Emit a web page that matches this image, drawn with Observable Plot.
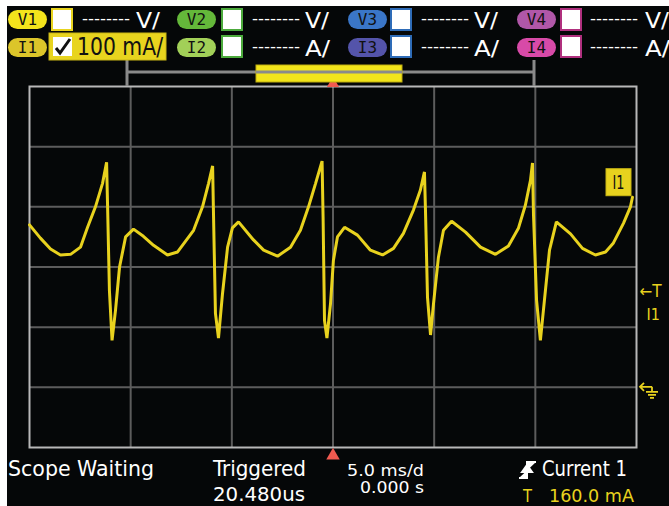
<!DOCTYPE html>
<html><head><meta charset="utf-8">
<script src="https://cdn.jsdelivr.net/npm/d3@7"></script>
<script src="https://cdn.jsdelivr.net/npm/@observablehq/plot@0.6"></script>
<style>
html,body{margin:0;padding:0;background:#fff;}
#wrap{position:relative;width:669px;height:506px;overflow:hidden;}
#bg{position:absolute;left:7px;top:6px;width:662px;height:500px;background:#050708;}
#wrap svg{position:absolute;left:0;top:0;}
</style></head><body><div id="wrap"><div id="bg"></div></div>
<script>
// Time (ms) relative to trigger, 5 ms/div
const timeMs = [-15.00,-14.46,-13.96,-13.47,-12.97,-12.48,-12.13,-11.74,-11.39,-11.19,-11.14,-11.05,-10.92,-10.75,-10.55,-10.25,-9.86,-9.37,-8.87,-8.18,-7.68,-6.89,-6.45,-6.15,-5.95,-5.91,-5.81,-5.66,-5.46,-5.21,-4.97,-4.67,-3.93,-3.43,-2.74,-2.10,-1.61,-1.21,-0.86,-0.54,-0.49,-0.42,-0.30,-0.12,0.02,0.22,0.57,1.21,1.85,2.45,2.99,3.48,3.98,4.32,4.52,4.57,4.67,4.82,4.97,5.21,5.46,5.86,6.55,7.29,8.03,8.67,9.17,9.51,9.76,9.86,9.91,10.06,10.25,10.45,10.70,11.04,11.74,12.33,12.97,13.47,13.86,14.36,14.70,14.80];
// Current I1 (mA), 100 mA/div
const currentMA = [270,248,230,220,221,233,266,300,339,374,300,161,78,128,200,250,263,251,236,220,225,261,300,339,368,295,123,82,156,233,265,275,245,228,218,233,261,300,339,376,283,111,82,140,211,250,266,253,228,220,231,256,295,328,358,295,150,87,140,216,261,276,258,233,221,235,265,303,344,373,286,145,78,145,228,275,255,231,220,225,240,273,300,316];
const timeDivs = [-15,-10,-5,0,5,10,15];
const currentDivs = [-100,0,100,200,300,400,500];
const triggerLevel = [160];
const groundLevel = [0];
const triggerTime = [0];

const channelsV = [
  {label:"V1", fill:"#f4e41c", border:"#e8d41e", unit:"V/"},
  {label:"V2", fill:"#64b83a", border:"#4caa3c", unit:"V/"},
  {label:"V3", fill:"#3a76c8", border:"#2e6cb8", unit:"V/"},
  {label:"V4", fill:"#b057a8", border:"#b0307e", unit:"V/"}
];
const channelsI = [
  {label:"I1", fill:"#dcc52a", border:"#e8d41e", unit:"100 mA/"},
  {label:"I2", fill:"#a2d058", border:"#4caa3c", unit:"A/"},
  {label:"I3", fill:"#5454aa", border:"#2e6cb8", unit:"A/"},
  {label:"I4", fill:"#d84aa8", border:"#b0307e", unit:"A/"}
];

const YEL = "#e8d21e";
const data = timeMs.map((t, k) => ({t, i: currentMA[k]}));
const FONT = "'Liberation Sans Narrow','DejaVu Sans Condensed','Liberation Sans',sans-serif";

const chart = Plot.plot({
  width: 669, height: 506,
  marginLeft: 29, marginRight: 33, marginTop: 86, marginBottom: 59,
  style: {background: "transparent", overflow: "visible", fontFamily: FONT},
  x: {domain: [-15, 15], axis: null},
  y: {domain: [-100, 500], axis: null},
  marks: [
    Plot.ruleX(timeDivs.slice(1, -1), {stroke: "#5c5c5c", strokeWidth: 2}),
    Plot.ruleY(currentDivs.slice(1, -1), {stroke: "#5c5c5c", strokeWidth: 2}),
    Plot.frame({stroke: "#b8b8b8", strokeWidth: 2}),
    Plot.line(data, {x: "t", y: "i", stroke: YEL, strokeWidth: 3, strokeLinejoin: "miter"}),
    Plot.text(triggerLevel, {y: d => d, text: () => "←T", frameAnchor: "right", textAnchor: "start", dx: 3, fill: YEL, fontSize: 17}),
    Plot.text(triggerLevel, {y: d => d, text: () => "I1", frameAnchor: "right", textAnchor: "start", dx: 10, dy: 24, fill: YEL, fontSize: 16}),
    Plot.dot(triggerTime, {x: d => d, frameAnchor: "top", symbol: "triangle", r: 4.5, fill: "#f05a50", dy: -3}),
    Plot.dot(triggerTime, {x: d => d, frameAnchor: "bottom", symbol: "triangle", r: 5, fill: "#f05a50", dy: 8})
  ]
});
document.getElementById("wrap").appendChild(chart);

const svg = d3.select(chart);
const g = svg.append("g").attr("font-family", FONT).attr("text-anchor", "start");
function txt(x, y, s, size, fill, len, anchor) {
  const t = g.append("text").attr("x", x).attr("y", y).attr("font-size", size).attr("fill", fill)
    .attr("text-anchor", anchor || "start").text(s);
  if (len) t.attr("textLength", len).attr("lengthAdjust", "spacingAndGlyphs");
  return t;
}
function pill(x, y, w, h, fill, label) {
  g.append("rect").attr("x", x).attr("y", y).attr("width", w).attr("height", h).attr("rx", h / 2).attr("fill", fill);
  g.append("text").attr("x", x + w / 2).attr("y", y + h - 4).attr("text-anchor", "middle")
    .attr("font-family", "'DejaVu Sans Mono',monospace").attr("font-size", 16).attr("fill", "#111").text(label);
}
function box(x, y, w, h, stroke) {
  g.append("rect").attr("x", x + 1).attr("y", y + 1).attr("width", w - 2).attr("height", h - 2)
    .attr("fill", "#fff").attr("stroke", stroke).attr("stroke-width", 2);
}

// Connector lines & acquisition bar
g.append("path").attr("d", "M127,60V86 M127,72H534 M534,60V86").attr("stroke", "#8a8a8a").attr("stroke-width", 3).attr("fill", "none");
g.append("rect").attr("x", 256).attr("y", 65).attr("width", 146).attr("height", 17).attr("fill", "#f2e41a").attr("stroke", "#bfae10").attr("stroke-width", 1);
g.append("path").attr("d", "M256,72H402").attr("stroke", "#8a8a8a").attr("stroke-width", 3);

// Header rows
const colX = [[8, 51, 82, 136], [177, 221, 252, 305], [348, 390, 421, 474], [517, 560, 590, 645]];
channelsV.forEach((c, k) => {
  const [px, bx, dx, ux] = colX[k];
  pill(px, 10, 39, 19, c.fill, c.label);
  box(bx, 8, 22, 23, c.border);
  txt(dx, 24, "--------", 15, "#fff", 48);
  txt(ux, 28, c.unit, 22, "#fff", 24);
});
channelsI.forEach((c, k) => {
  const [px, bx, dx, ux] = colX[k];
  if (k === 0) {
    g.append("rect").attr("x", 49).attr("y", 33).attr("width", 117).attr("height", 27).attr("fill", "#e8d41e").attr("stroke", "#c9b614").attr("stroke-width", 1);
    g.append("rect").attr("x", 53).attr("y", 37).attr("width", 19).attr("height", 19).attr("fill", "#fff");
    g.append("path").attr("d", "M56,48 L60,53 L70,39").attr("stroke", "#111").attr("stroke-width", 3).attr("fill", "none");
    txt(77, 55, c.unit, 25, "#111", 86);
  } else {
    box(bx, 35, 22, 23, c.border);
    txt(dx, 52, "--------", 15, "#fff", 48);
    txt(ux, 56, c.unit, 22, "#fff", 25);
  }
  pill(px, 38, 39, 19, c.fill, c.label);
});

// Trace label box at right
const ys = chart.scale("y");
const lastY = ys.apply(currentMA[currentMA.length - 1]);
g.append("rect").attr("x", 606).attr("y", lastY - 28).attr("width", 25).attr("height", 27).attr("fill", YEL).attr("stroke", "#c9b614");
txt(618.5, lastY - 8, "I1", 20, "#111", 12, "middle");

// Ground marker
const gy = ys.apply(groundLevel[0]);
g.append("path").attr("d", `M640,${gy} H652 M644,${gy - 4} L640,${gy} L644,${gy + 4} M652,${gy} V${gy + 5} M646,${gy + 5} H658 M648,${gy + 8} H656 M650,${gy + 11} H654`)
  .attr("stroke", YEL).attr("stroke-width", 1.8).attr("fill", "none");

// Footer
txt(8, 476, "Scope Waiting", 21, "#fff", 146);
txt(213, 476, "Triggered", 21, "#fff", 93);
txt(213, 501, "20.480us", 20, "#fff", 92);
txt(347, 476, "5.0 ms/d", 15, "#fff", 77);
txt(360, 493, "0.000 s", 15, "#fff", 64);
g.append("path").attr("d", "M519,478 H527 V462 H536 M522,472 L527,465 L532,472 Z").attr("stroke", "#fff").attr("stroke-width", 2).attr("fill", "#fff");
txt(542, 476, "Current 1", 21, "#fff", 85);
txt(523, 502, "T", 17, YEL, 9);
txt(549, 502, "160.0 mA", 17, YEL, 85);
</script>
</body></html>
